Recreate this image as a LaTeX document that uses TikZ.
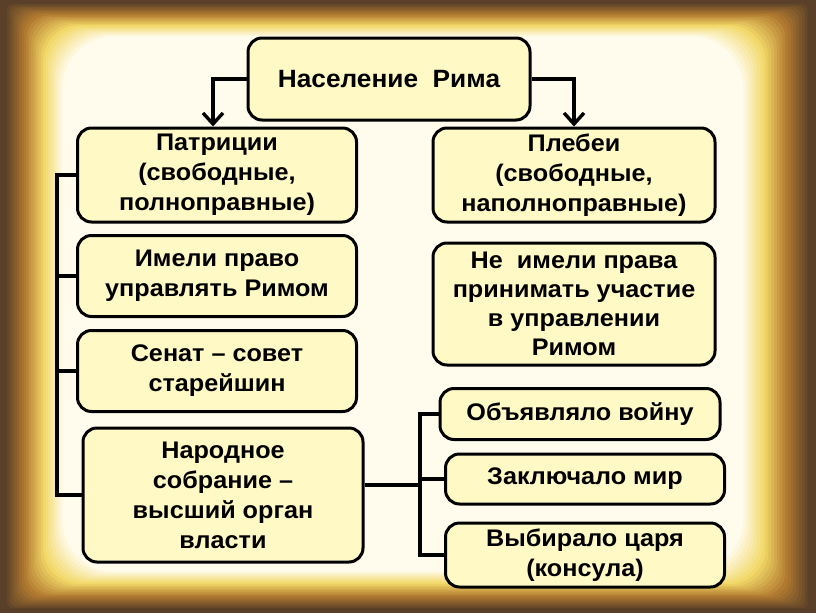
\documentclass[tikz,border=0pt]{standalone}
\usepackage{fontspec}
\setmainfont{Liberation Sans}[FakeStretch=1.05]
\usetikzlibrary{arrows.meta}

\definecolor{edgebrown}{HTML}{5A4028}
\definecolor{midbrown}{HTML}{B27A30}
\definecolor{paperyel}{HTML}{F2D868}
\definecolor{paperlight}{HTML}{FFFCEE}
\definecolor{boxfill}{HTML}{FFF9C6}

\tikzset{
  box/.style={draw, line width=3pt, rounded corners=14pt, fill=boxfill,
    align=center, inner sep=0pt, minimum width=279pt,
    font=\bfseries\fontsize{24}{30}\selectfont},
  link/.style={line width=3.4pt},
  downarrow/.style={link, -{Straight Barb[length=11pt,width=20pt,line width=3.4pt]}},
}

\begin{document}
\begin{tikzpicture}[x=1pt,y=-1pt]
\useasboundingbox (0,0) rectangle (816,613);

% parchment
\fill[edgebrown] (0,0) rectangle (816,613);
\foreach \k in {0,...,24}{
  \pgfmathsetmacro\d{4+2*\k}
  \pgfmathsetmacro\p{min(100,\k*100/8)}
  \pgfmathsetmacro\q{min(100,max(0,(\k-8)*100/8))}
  \pgfmathsetmacro\r{max(0,(\k-16)*100/8)}
  \colorlet{tmpc}{midbrown!\p!edgebrown}
  \colorlet{tmpc}{paperyel!\q!tmpc}
  \fill[paperlight!\r!tmpc, rounded corners=\d pt] (1.2*\d,0.7*\d) rectangle (816-1.4*\d,613-0.8*\d);
}

    \node[box, minimum width=282pt, minimum height=82pt, font=\bfseries\fontsize{25}{30}\selectfont] (pop) at (389,79) {Население\ \ Рима};

    \node[box, minimum height=94pt] (patr) at (217,175) {Патриции\\(свободные,\\полноправные)};
    \node[box, minimum width=282pt, minimum height=94pt] (pleb) at (574,175) {Плебеи\\(свободные,\\наполноправные)};

    \node[box, minimum height=81pt] (pravo) at (217,276) {Имели право\\управлять Римом};
    \node[box, minimum height=81pt] (senat) at (217,371) {Сенат -- совет\\старейшин};
    \node[box, minimum width=280pt, minimum height=134pt] (sobr) at (223,495) {Народное\\собрание --\\высший орган\\власти};

    \node[box, minimum width=282pt, minimum height=122pt, font=\bfseries\fontsize{24}{29}\selectfont] (neprava) at (574,304) {Не\ \ имели права\\принимать участие\\в управлении\\Римом};

    \node[box, minimum width=280pt, minimum height=51pt] (voina) at (580,414) {Объявляло войну};
    \node[box, minimum width=279pt, minimum height=50pt] (mir) at (585,479) {Заключало мир};
    \node[box, minimum width=279pt, minimum height=64pt] (tsar) at (585,555) {Выбирало царя\\(консула)};

    \coordinate (ltop) at (57,175);
    \coordinate (rtop) at (420,414);

\draw[downarrow] (pop.west) -| ([xshift=-4pt]patr.north);
\draw[downarrow] (pop.east) -| (pleb.north);

\draw[link] (patr.west) -- (ltop) -- (sobr.west -| ltop) -- (sobr.west);
\foreach \n in {pravo,senat}
    \draw[link] (\n.west) -- (\n.west -| ltop);

\draw[link] (voina.west) -- (voina.west -| rtop) -- (tsar.west -| rtop) -- (tsar.west);
\draw[link] (mir.west) -- (mir.west -| rtop);
\draw[link] ([yshift=10pt]sobr.east) -- ([yshift=10pt]sobr.east -| rtop);

\end{tikzpicture}
\end{document}
